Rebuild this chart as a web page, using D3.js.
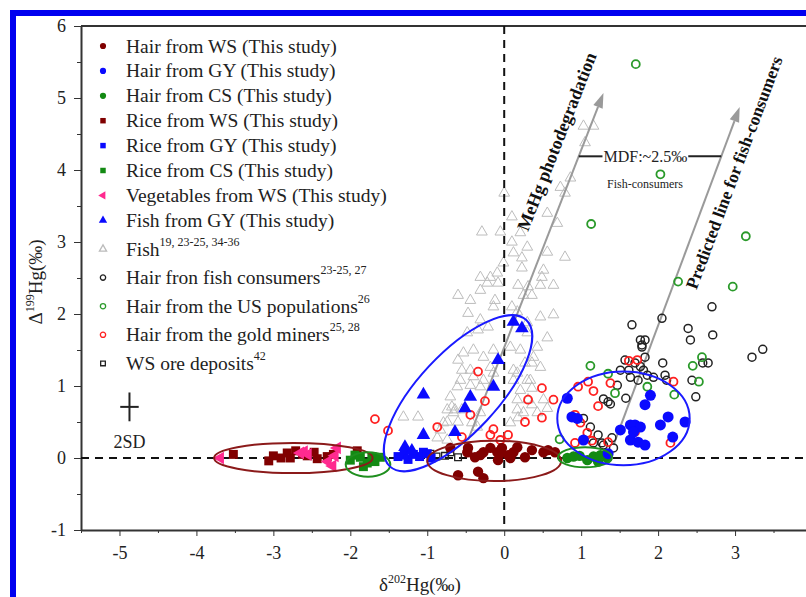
<!DOCTYPE html>
<html lang="en">
<head>
<meta charset="UTF-8">
<script src="https://cdn.jsdelivr.net/npm/d3@7"></script>
<title>Hg isotopes</title>
<style>
  body { margin: 0; background: #fff; }
  svg { display: block; font-family: "Liberation Serif", "DejaVu Serif", serif; }
  .axis path, .axis line { stroke: #333; }
  .axis text { font-family: "Liberation Serif", serif; font-size: 18px; fill: #222; }
</style>
</head>
<body>
<div id="chart"></div>
<script>
// ---- data (delta202Hg, Delta199Hg) ----
var hairWS = [[-0.60,-0.24],[-0.34,-0.19],[-0.27,-0.28],[-0.48,0.08],[-0.38,0.01],[-0.27,0.08],[-0.09,0.08],
  [-0.08,-0.03],[0.05,0.04],[0.12,0.08],[0.17,0.15],[0.27,0.01],[0.51,0.08],[0.57,0.11],[0.66,0.08],[-0.47,0.14],
  [-0.70,0.14],[-0.18,0.14],[-0.03,0.14],[-0.05,0.07],[0.08,0.0],[-0.31,0.04],[0.36,0.11]];
var hairGY = [[0.82,0.83],[0.88,0.57],[0.95,0.55],[1.51,0.39],[1.64,0.46],[1.70,0.46],[1.77,0.43],[1.64,0.25],
  [1.74,0.22],[1.83,0.18],[1.90,0.87],[1.83,0.74],[2.03,0.46],[2.13,0.57],[2.35,0.50],[2.19,0.29],[1.03,0.25],
  [1.68,0.36],[1.35,0.06]];
var hairCS = [[0.82,0.0],[0.90,0.02],[0.98,0.03],[1.08,-0.03],[1.16,0.02],[1.22,-0.05],[1.25,0.04],[1.34,0.0]];
var riceWS = [[-3.52,0.05],[-3.06,-0.04],[-3.00,0.03],[-2.90,0.0],[-2.82,0.07],[-2.78,0.0],[-2.71,0.10],[-2.62,0.05],
  [-2.56,0.03],[-2.47,0.08],[-2.43,-0.01],[-2.30,0.02],[-2.22,0.05],[-1.91,0.10]];
var riceGY = [[-1.38,0.02],[-1.30,0.04],[-1.25,-0.02],[-1.18,0.05],[-1.10,0.02],[-1.05,0.08],[-1.00,0.06],[-0.95,0.0]];
var riceCS = [[-2.00,-0.03],[-1.94,0.04],[-1.87,0.01],[-1.83,-0.12],[-1.78,-0.07],[-1.72,0.02],[-1.68,-0.05],[-1.61,0.01]];
var vegWS = [[-3.69,0.0],[-2.65,0.07],[-2.60,0.09],[-2.55,0.05],[-2.29,-0.05],[-2.23,-0.11],[-2.20,0.03],[-2.17,0.14]];
var fishGY = [[0.12,1.89],[0.23,1.80],[-0.08,1.36],[-0.14,0.99],[-0.44,0.85],[-1.05,0.88],[-0.51,0.69],
  [-1.05,0.32],[-0.64,0.36],[-1.29,0.15],[-1.20,0.10]];
var fishLit = [[1.03,4.61],[1.16,4.61],[1.05,4.38],[0.86,3.89],[0.73,3.76],[0.79,3.68],[0.0,3.68],[0.10,3.35],
  [0.56,3.40],[0.69,3.26],[-0.29,3.14],[-0.05,3.14],[0.21,3.13],[0.10,3.00],[0.30,2.93],[0.56,2.86],[0.79,2.79],
  [0.12,2.85],[0.23,2.78],[-0.01,2.71],[0.23,2.64],[0.51,2.61],[-0.31,2.51],[-0.18,2.51],[-0.09,2.57],[0.49,2.51],
  [-0.22,2.43],[-0.08,2.43],[0.18,2.40],[0.31,2.38],[0.47,2.40],[0.64,2.40],[-0.60,2.26],[-0.44,2.19],[-0.31,2.33],
  [-0.12,2.19],[0.25,2.26],[0.36,2.26],[-0.14,2.10],[0.10,2.10],[-0.47,2.01],[0.17,2.03],[0.64,1.99],[-0.31,1.92],
  [0.30,1.88],[0.47,1.96],[-0.34,1.78],[-0.48,1.74],[0.30,1.74],[0.56,1.67],[0.43,1.54],[0.38,1.40],[-0.53,1.46],
  [-0.40,1.50],[-0.27,1.40],[-0.14,1.50],[-0.18,1.26],[-0.44,1.22],[-0.57,1.08],[-0.61,0.99],[-0.44,1.01],
  [-0.27,1.08],[-0.14,1.18],[0.17,1.18],[0.27,1.32],[0.34,1.08],[0.47,1.26],[-0.21,1.82],[0.08,1.54],[0.21,1.50],
  [-0.60,1.36],[-0.55,1.22],[0.12,1.22],[0.36,1.32],[-0.40,1.13],[0.12,1.08],[0.30,1.08],[-0.70,0.85],[0.21,0.94],
  [0.36,0.97],[0.17,0.81],[0.31,0.81],[0.51,0.81],[0.56,0.69],[-0.74,0.67],[-0.66,0.63],[0.17,0.67],[0.25,0.63],
  [-1.31,0.57],[-0.74,0.50],[-0.60,0.50],[-0.35,0.43],[-0.31,0.99],[-0.68,0.71],[-0.55,0.67],[-0.79,0.49],
  [-0.87,0.28],[-0.74,0.25],[-0.31,0.63],[-0.42,0.49],[0.36,0.74],[0.43,0.63],[0.18,0.56],[0.08,0.49],
  [-1.12,0.57],[-0.83,0.39],[-0.64,0.67]];
var hairFishCons = [[2.05,1.94],[1.66,1.85],[2.70,2.10],[2.39,1.80],[2.42,1.64],[2.71,1.71],[3.22,1.40],[3.36,1.51],
  [1.79,1.54],[1.83,1.64],[1.77,1.64],[1.83,1.40],[2.06,1.32],[2.65,1.32],[2.58,1.32],[2.44,1.08],[1.57,1.36],
  [1.70,1.32],[1.51,1.22],[1.64,1.12],[1.81,1.22],[1.86,1.15],[1.94,1.12],[2.09,1.15],[2.11,1.08],[1.47,1.01],
  [2.49,0.85],[1.58,0.83],[1.29,0.82],[1.38,0.75],[1.03,0.55],[1.12,0.43],[1.22,0.32],[1.16,0.21],[1.27,0.21],
  [1.29,0.18],[1.40,0.28],[1.42,0.14],[1.74,1.08],[1.79,1.57],[1.62,1.22],[1.77,1.27],[1.35,0.78]];
var hairUS = [[1.71,5.47],[2.03,3.94],[1.13,3.25],[3.14,3.08],[2.26,2.45],[2.97,2.38],[1.12,1.28],[2.57,1.40],
  [2.45,1.28],[2.53,1.06],[1.35,1.17],[1.44,0.90],[1.86,0.99],[2.21,0.88],[0.72,0.26]];
var hairMiners = [[-1.68,0.54],[-1.51,0.38],[-0.87,0.43],[-0.34,1.20],[0.49,0.97],[0.31,0.81],[0.64,0.81],
  [-0.25,0.79],[0.49,0.56],[0.27,0.50],[-0.44,0.60],[-0.14,0.40],[-0.18,0.32],[-0.05,0.25],[0.05,0.32],
  [-0.55,0.29],[0.96,0.99],[1.16,0.93],[1.09,1.06],[1.38,1.04],[1.62,1.35],[1.73,1.36],[2.20,1.06],[1.22,0.72],
  [0.92,0.60],[0.99,0.49],[1.08,0.35],[0.92,0.21],[1.14,0.24],[1.35,0.22],[1.70,0.36],[2.16,0.21]];
var oreWS = [[-0.96,0.06],[-0.88,0.02],[-0.77,0.03],[-0.70,0.08],[-0.60,0.01]];

var xTicks = [-5, -4, -3, -2, -1, 0, 1, 2, 3, 4];
var xLabels = ["-5", "-4", "-3", "-2", "-1", "0", "1", "2", "3", ""];
var yTicks = [-1, 0, 1, 2, 3, 4, 5, 6];

// ellipses: cx, cy, rx, ry (data units), angle
var ellipses = [
  {cx: -2.74, cy: 0.0, rx: 1.03, ry: 0.21, a: 0, c: "#8b1a1a"},
  {cx: -1.77, cy: -0.09, rx: 0.29, ry: 0.17, a: 0, c: "#1f8f1f"},
  {cx: -0.60, cy: 0.90, rx: 1.30, ry: 0.55, a: -47, c: "#1a1aff"},
  {cx: -0.13, cy: -0.04, rx: 0.87, ry: 0.28, a: 0, c: "#8b1a1a"},
  {cx: 1.05, cy: 0.01, rx: 0.35, ry: 0.14, a: 0, c: "#1f8f1f"},
  {cx: 1.55, cy: 0.55, rx: 0.86, ry: 0.65, a: 0, c: "#1a1aff"}
];

var arrows = [
  {x1: -0.47, y1: 0.25, x2: 1.29, y2: 5.07},
  {x1: 1.42, y1: 0.18, x2: 3.06, y2: 4.875}
];

var W = 806, H = 597;
var svg = d3.select("#chart").append("svg").attr("width", W).attr("height", H);

svg.append("rect").attr("width", W).attr("height", H).attr("fill", "#fff");
// blue frame
svg.append("rect").attr("x", 13).attr("y", 13).attr("width", 900).attr("height", 700)
  .attr("fill", "none").attr("stroke", "#0000f0").attr("stroke-width", 6);

var x = d3.scaleLinear().domain([-5.5, 4]).range([81, 812]);
var y = d3.scaleLinear().domain([-1, 6]).range([530, 26]);
var kx = x(1) - x(0), ky = y(0) - y(1);

// axes
var minorX = d3.range(-5.5, 4.01, 0.5).filter(function(d) { return d % 1 !== 0; });
var minorY = d3.range(-0.5, 6, 1);

svg.append("g").attr("class", "axis").attr("transform", "translate(0," + y(-1) + ")")
  .call(d3.axisBottom(x).tickValues(minorX).tickSize(3).tickSizeOuter(0).tickFormat(""));
svg.append("g").attr("class", "axis").attr("transform", "translate(0," + y(-1) + ")")
  .call(d3.axisBottom(x).tickValues(xTicks).tickSize(6).tickSizeOuter(0).tickPadding(10)
    .tickFormat(function(d, i) { return xLabels[i]; }))
  .call(function(g) { g.select(".domain").attr("stroke-width", 2); });

svg.append("g").attr("class", "axis").attr("transform", "translate(" + x(-5.5) + ",0)")
  .call(d3.axisLeft(y).tickValues(minorY).tickSize(4).tickSizeOuter(0).tickFormat(""));
svg.append("g").attr("class", "axis").attr("transform", "translate(" + x(-5.5) + ",0)")
  .call(d3.axisLeft(y).tickValues(yTicks).tickSize(7).tickSizeOuter(0).tickPadding(8).tickFormat(function(d) { return String(d); }))
  .call(function(g) { g.select(".domain").attr("stroke-width", 2); });

// top frame
svg.append("line").attr("x1", x(-5.5)).attr("x2", x(4)).attr("y1", y(6)).attr("y2", y(6))
  .attr("stroke", "#333").attr("stroke-width", 2);

// axis titles
var xt = svg.append("text").attr("x", 420).attr("y", 591).attr("text-anchor", "middle")
  .style("font-size", "19px").attr("fill", "#222");
xt.append("tspan").text("\u03b4");
xt.append("tspan").attr("dy", -8).style("font-size", "12px").text("202");
xt.append("tspan").attr("dy", 8).text("Hg(\u2030)");

var yt = svg.append("text").attr("transform", "translate(42,282)rotate(-90)").attr("text-anchor", "middle")
  .style("font-size", "19px").attr("fill", "#222");
yt.append("tspan").text("\u0394");
yt.append("tspan").attr("dy", -8).style("font-size", "12px").text("199");
yt.append("tspan").attr("dy", 8).text("Hg(\u2030)");

// plot layer
var plot = svg.append("g");

function sym(type, size) { return d3.symbol().type(type).size(size)(); }

// literature fish (grey open triangles)
plot.selectAll(".fish").data(fishLit).enter().append("path")
  .attr("d", sym(d3.symbolTriangle, 50))
  .attr("transform", function(d) { return "translate(" + x(d[0]) + "," + y(d[1]) + ")"; })
  .attr("fill", "none").attr("stroke", "#bdbdbd").attr("stroke-width", 1);

// dashed reference lines
plot.append("line").attr("x1", x(-5.5)).attr("x2", x(4)).attr("y1", y(0)).attr("y2", y(0))
  .attr("stroke", "#111").attr("stroke-width", 2).attr("stroke-dasharray", "8,6");
plot.append("line").attr("x1", x(0)).attr("x2", x(0)).attr("y1", y(6)).attr("y2", y(-1))
  .attr("stroke", "#111").attr("stroke-width", 2).attr("stroke-dasharray", "8,6");

// arrows
arrows.forEach(function(a) {
  var X1 = x(a.x1), Y1 = y(a.y1), X2 = x(a.x2), Y2 = y(a.y2);
  var ang = Math.atan2(Y2 - Y1, X2 - X1);
  var hl = 15, hw = 5;
  var bx = X2 - hl * Math.cos(ang), by = Y2 - hl * Math.sin(ang);
  plot.append("line").attr("x1", X1).attr("y1", Y1).attr("x2", bx).attr("y2", by)
    .attr("stroke", "#9a9a9a").attr("stroke-width", 2);
  plot.append("path")
    .attr("d", "M" + X2 + "," + Y2 + "L" + (bx + hw * Math.sin(ang)) + "," + (by - hw * Math.cos(ang)) +
      "L" + (bx - hw * Math.sin(ang)) + "," + (by + hw * Math.cos(ang)) + "Z")
    .attr("fill", "#9a9a9a");
});

function arrowAngle(a) {
  return Math.atan2(y(a.y2) - y(a.y1), x(a.x2) - x(a.x1)) * 180 / Math.PI;
}

plot.append("text").attr("transform", "translate(" + x(0.31) + "," + y(3.14) + ")rotate(" + arrowAngle(arrows[0]) + ")")
  .style("font-size", "18px").style("font-weight", "bold").attr("fill", "#111")
  .text("MeHg photodegradation");
plot.append("text").attr("transform", "translate(" + x(2.50) + "," + y(2.33) + ")rotate(" + arrowAngle(arrows[1]) + ")")
  .style("font-size", "17.5px").style("font-weight", "bold").attr("fill", "#111")
  .text("Predicted line for fish-consumers");

// MDF bracket
var mdfY = 4.19;
var a1x = x(arrows[0].x1) + (x(arrows[0].x2) - x(arrows[0].x1)) * (y(mdfY) - y(arrows[0].y1)) / (y(arrows[0].y2) - y(arrows[0].y1));
var a2x = x(arrows[1].x1) + (x(arrows[1].x2) - x(arrows[1].x1)) * (y(mdfY) - y(arrows[1].y1)) / (y(arrows[1].y2) - y(arrows[1].y1));
var mdf = plot.append("text").attr("x", x(1.29)).attr("y", y(mdfY) + 6)
  .style("font-size", "16px").attr("fill", "#222").text("MDF:~2.5\u2030");
var mdfEnd = x(1.29) + mdf.node().getComputedTextLength();
plot.append("line").attr("x1", a1x).attr("x2", x(1.29) - 1).attr("y1", y(mdfY)).attr("y2", y(mdfY))
  .attr("stroke", "#222").attr("stroke-width", 2);
plot.append("line").attr("x1", mdfEnd + 1).attr("x2", a2x).attr("y1", y(mdfY)).attr("y2", y(mdfY))
  .attr("stroke", "#222").attr("stroke-width", 2);
plot.append("text").attr("x", x(1.83)).attr("y", y(3.75)).attr("text-anchor", "middle")
  .style("font-size", "12px").attr("fill", "#222").text("Fish-consumers");

// open markers
function openPts(data, type, size, color, sw) {
  plot.append("g").selectAll("path").data(data).enter().append("path")
    .attr("d", sym(type, size))
    .attr("transform", function(d) { return "translate(" + x(d[0]) + "," + y(d[1]) + ")"; })
    .attr("fill", "none").attr("stroke", color).attr("stroke-width", sw);
}
function fillPts(data, type, size, color, rot) {
  plot.append("g").selectAll("path").data(data).enter().append("path")
    .attr("d", sym(type, size))
    .attr("transform", function(d) { return "translate(" + x(d[0]) + "," + y(d[1]) + ")" + (rot ? "rotate(" + rot + ")" : ""); })
    .attr("fill", color);
}

openPts(hairFishCons, d3.symbolCircle, 50, "#222", 1.5);
openPts(hairUS, d3.symbolCircle, 50, "#2a9a2a", 1.8);
openPts(hairMiners, d3.symbolCircle, 50, "#ff2020", 1.8);
openPts(oreWS, d3.symbolSquare, 45, "#222", 1.3);

fillPts(riceWS, d3.symbolSquare, 80, "#800000");
fillPts(vegWS, d3.symbolTriangle, 70, "#ff2a8f", -90);
fillPts(riceCS, d3.symbolSquare, 80, "#138a13");
fillPts(hairCS, d3.symbolCircle, 85, "#138a13");
fillPts(riceGY, d3.symbolSquare, 80, "#0a0aff");
fillPts(fishGY, d3.symbolTriangle, 80, "#0a0aff");
fillPts(hairWS, d3.symbolCircle, 85, "#800000");
fillPts(hairGY, d3.symbolCircle, 95, "#0a0aff");

// ellipses
plot.selectAll(".ell").data(ellipses).enter().append("ellipse")
  .attr("transform", function(d) { return "translate(" + x(d.cx) + "," + y(d.cy) + ")rotate(" + d.a + ")"; })
  .attr("rx", function(d) { return d.rx * kx; })
  .attr("ry", function(d) { return d.ry * ky; })
  .attr("fill", "none").attr("stroke", function(d) { return d.c; }).attr("stroke-width", 2);

// 2SD cross
var sd = {x: -4.87, y: 0.71, dx: 0.12, dy: 0.2};
plot.append("line").attr("x1", x(sd.x - sd.dx)).attr("x2", x(sd.x + sd.dx)).attr("y1", y(sd.y)).attr("y2", y(sd.y))
  .attr("stroke", "#222").attr("stroke-width", 2);
plot.append("line").attr("x1", x(sd.x)).attr("x2", x(sd.x)).attr("y1", y(sd.y - sd.dy)).attr("y2", y(sd.y + sd.dy))
  .attr("stroke", "#222").attr("stroke-width", 2);
plot.append("text").attr("x", x(sd.x)).attr("y", y(0.14)).attr("text-anchor", "middle")
  .style("font-size", "18px").attr("fill", "#222").text("2SD");

// legend
var legend = [
  {t: "Hair from WS (This study)", s: d3.symbolCircle, c: "#800000", f: true},
  {t: "Hair from GY (This study)", s: d3.symbolCircle, c: "#0a0aff", f: true},
  {t: "Hair from CS (This study)", s: d3.symbolCircle, c: "#138a13", f: true},
  {t: "Rice from WS (This study)", s: d3.symbolSquare, c: "#800000", f: true},
  {t: "Rice from GY (This study)", s: d3.symbolSquare, c: "#0a0aff", f: true},
  {t: "Rice from CS (This study)", s: d3.symbolSquare, c: "#138a13", f: true},
  {t: "Vegetables from WS (This study)", s: d3.symbolTriangle, c: "#ff2a8f", f: true, r: -90},
  {t: "Fish from GY (This study)", s: d3.symbolTriangle, c: "#0a0aff", f: true},
  {t: "Fish", sup: "19, 23-25, 34-36", s: d3.symbolTriangle, c: "#bbb", f: false},
  {t: "Hair fron fish consumers", sup: "23-25, 27", s: d3.symbolCircle, c: "#222", f: false},
  {t: "Hair from the US populations", sup: "26", s: d3.symbolCircle, c: "#2a9a2a", f: false},
  {t: "Hair from the gold miners", sup: "25, 28", s: d3.symbolCircle, c: "#ff2020", f: false},
  {t: "WS ore deposits", sup: "42", s: d3.symbolSquare, c: "#222", f: false}
];
legend.forEach(function(d, i) {
  var ly = i < 8 ? 46 + i * 24.9 : 249 + (i - 8) * 28.6;
  svg.append("path").attr("d", sym(d.s, d.f ? 30 : 22))
    .attr("transform", "translate(103," + ly + ")" + (d.r ? "rotate(" + d.r + ")" : ""))
    .attr("fill", d.f ? d.c : "none").attr("stroke", d.f ? "none" : d.c).attr("stroke-width", 1.3);
  var t = svg.append("text").attr("x", 126).attr("y", ly + 6.5).style("font-size", "19.5px").attr("fill", "#222");
  t.append("tspan").text(d.t);
  if (d.sup) t.append("tspan").attr("dy", -10).style("font-size", "12px").text(d.sup);
});
</script>
</body>
</html>
